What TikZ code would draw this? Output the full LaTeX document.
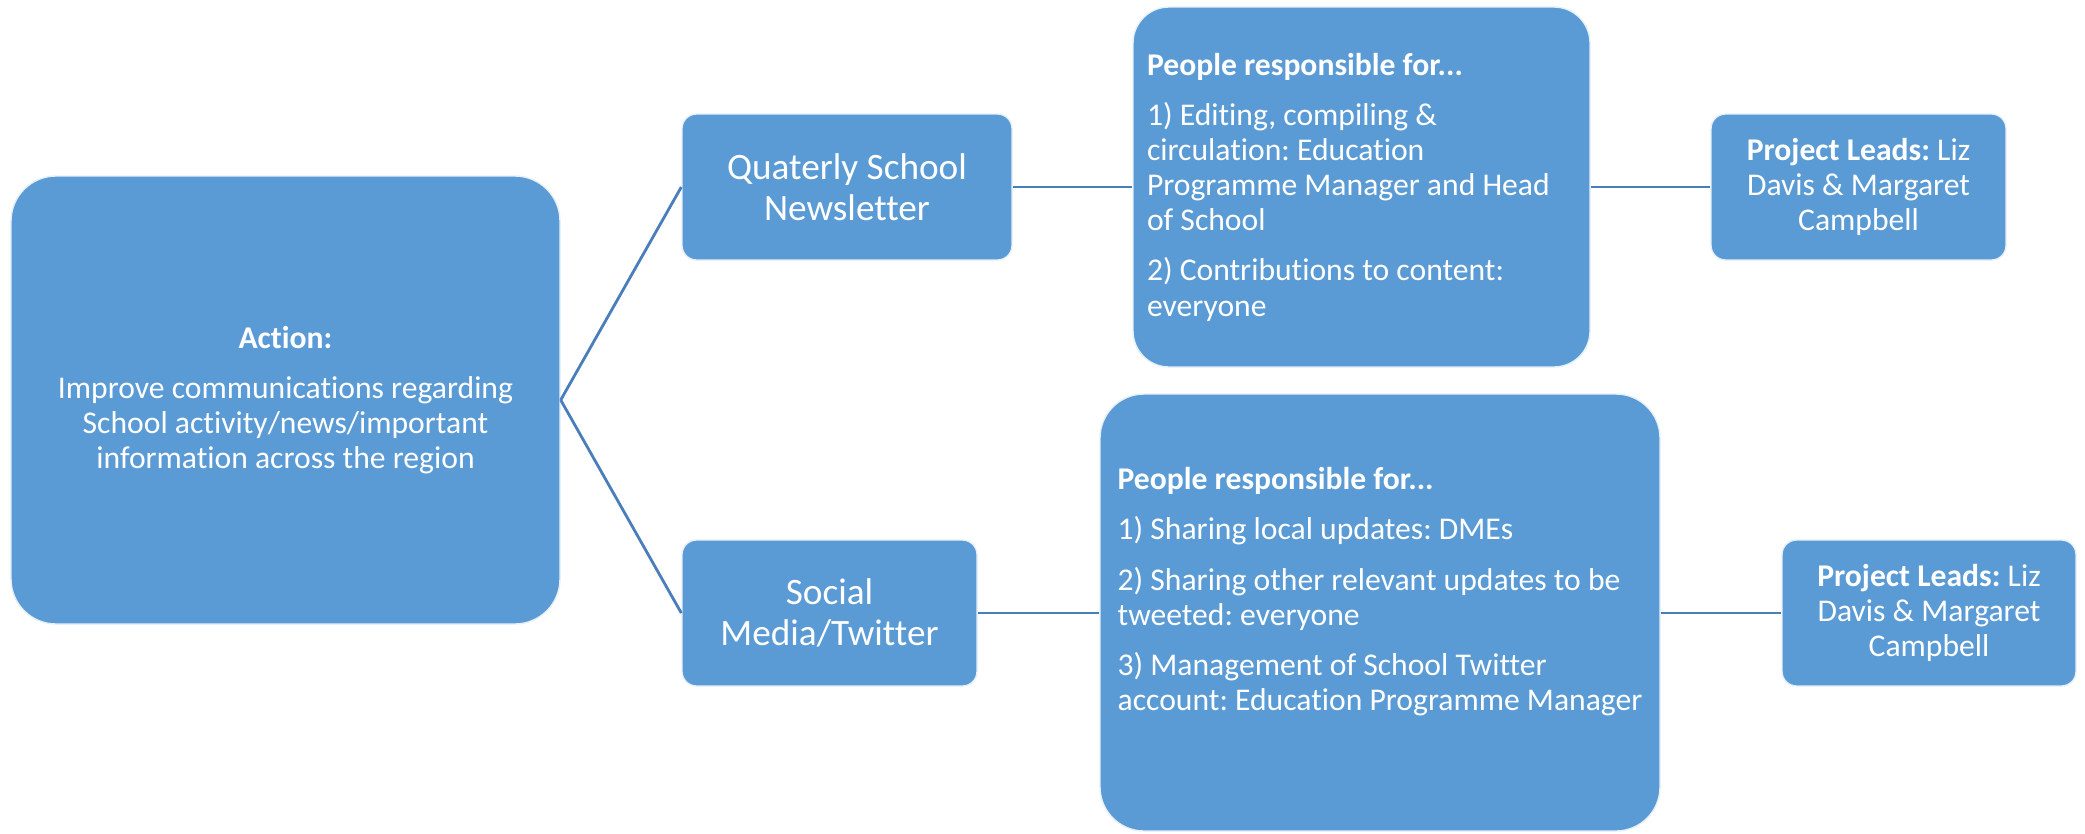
\documentclass[tikz,border=0pt]{standalone}
\usepackage{fontspec}
\setmainfont[Ligatures=NoCommon]{Carlito}

\definecolor{boxblue}{HTML}{5B9BD5}
\definecolor{linkblue}{HTML}{4A7EBB}

\tikzset{
  card/.style={draw=white!85!boxblue, line width=0.4pt, fill=boxblue, text=white,
    rounded corners=#1, inner sep=0pt},
  card/.default=0.145cm,
  small/.style={font=\fontsize{9}{10}\selectfont},
  large/.style={font=\fontsize{10.6}{11.7}\selectfont},
  link/.style={draw=linkblue, line width=0.8pt}
}

\begin{document}
\frenchspacing
\begin{tikzpicture}
  \useasboundingbox (0,0) rectangle (20.85,8.33);

  % the action
  \node[card=0.45cm, small, align=center, minimum width=5.49cm, minimum height=4.48cm]
    (action) at (2.855,4.33)
    {\textbf{Action:}\\[4.3pt]
     Improve communications regarding\\
     School activity/news/important\\
     information across the region};

  % first branch: newsletter
  \node[card, large, align=center, minimum width=3.30cm, minimum height=1.46cm]
    (news) at (8.47,6.46) {Quaterly School\\Newsletter};
  \node[card=0.36cm, small, align=flush left, text width=4.29cm,
    minimum width=4.57cm, minimum height=3.60cm] (people1) at (13.615,6.46)
    {\textbf{People responsible for...}\\[4.3pt]
     1) Editing, compiling \&\\
     circulation: Education\\
     Programme Manager and Head\\
     of School\\[4.3pt]
     2) Contributions to content:\\
     everyone};
  \node[card, small, align=center, minimum width=2.95cm, minimum height=1.46cm]
    (lead1) at (18.585,6.46)
    {\textbf{Project Leads:} Liz\\Davis \& Margaret\\Campbell};

  % second branch: social media (empty last line lifts the text)
  \node[card=0.44cm, small, align=left, minimum width=5.60cm, minimum height=4.37cm]
    (people2) at (13.80,2.205)
    {\textbf{People responsible for...}\\[4.3pt]
     1) Sharing local updates: DMEs\\[4.3pt]
     2) Sharing other relevant updates to be\\
     tweeted: everyone\\[4.3pt]
     3) Management of School Twitter\\
     account: Education Programme Manager\\[0.12cm]
     \mbox{}};
  \node[card, large, align=center, minimum width=2.95cm, minimum height=1.46cm]
    (social) at (8.295,2.20) {Social\\Media/Twitter};
  \node[card, small, align=center, minimum width=2.94cm, minimum height=1.46cm]
    (lead2) at (19.29,2.20)
    {\textbf{Project Leads:} Liz\\Davis \& Margaret\\Campbell};

  % connectors
  \draw[link] (action.east) -- (news.west);
  \draw[link] (action.east) -- (social.west);
  \draw[link] (news) -- (people1);
  \draw[link] (people1) -- (lead1);
  \draw[link] (social) -- (people2.west |- social);
  \draw[link] (people2.east |- lead2) -- (lead2);
\end{tikzpicture}
\end{document}
